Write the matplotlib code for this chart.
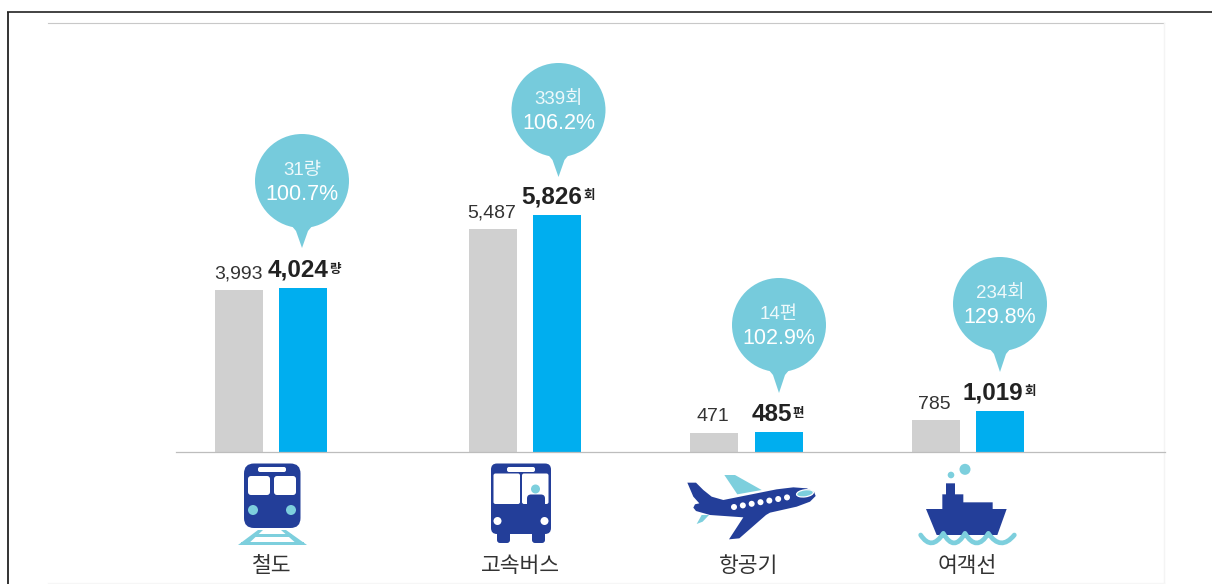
import matplotlib
matplotlib.use("Agg")
import matplotlib.pyplot as plt
from matplotlib.patches import Circle, Polygon, FancyBboxPatch, Rectangle, Ellipse, PathPatch
from matplotlib.path import Path

plt.rcParams['font.family'] = ['Noto Sans CJK KR', 'DejaVu Sans']
LATIN = ['Liberation Sans', 'Noto Sans CJK KR']

modes = ['철도', '고속버스', '항공기', '여객선']
prev_values = [3993, 5487, 471, 785]
curr_values = [4024, 5826, 485, 1019]
units = ['량', '회', '편', '회']
diff_labels = ['31량', '339회', '14편', '234회']
pct_labels = ['100.7%', '106.2%', '102.9%', '129.8%']

W, H = 1212, 584
GRAY = '#d0d0d0'
BLUE = '#00aeef'
TEAL = '#76cbdc'
PALE = '#7dcfdd'
NAVY = '#233e99'
INK = '#222222'

# pixel layout
gray_x = [239, 492.5, 714, 935.5]
blue_x = [303, 557, 779, 1000]
curr_label_x = [298, 551.5, 771.5, 993]
bar_w = 48
base_y = 452
px_per_unit = 237 / 5826
bubble_xy = [(302, 181, 248), (558.5, 110, 177), (779, 325, 393), (1000, 304, 372)]
label_x = [272, 520, 749, 967]

fig = plt.figure(figsize=(W / 100, H / 100), dpi=100, facecolor='white')

# bars, x in pixels, y in data units
ax = fig.add_axes([0, 1 - base_y / H, 1, base_y / H])
ax.set_xlim(0, W)
ax.set_ylim(0, base_y / px_per_unit)
ax.axis('off')
ax.bar(gray_x, prev_values, width=bar_w, color=GRAY, linewidth=0)
ax.bar(blue_x, curr_values, width=bar_w, color=BLUE, linewidth=0)

# everything else in image pixels
ov = fig.add_axes([0, 0, 1, 1])
ov.set_xlim(0, W)
ov.set_ylim(H, 0)
ov.axis('off')
ov.patch.set_alpha(0)

ov.plot([7.5, 7.5], [H, 12], color='#111111', lw=1.2, solid_capstyle='butt')
ov.plot([7, W], [12, 12], color='#222222', lw=1.2, solid_capstyle='butt')
ov.plot([48, 1164], [22.5, 22.5], color='#c8c8c8', lw=0.8)
ov.plot([1163.5, 1163.5], [23, H], color='#f4f4f4', lw=1)
ov.plot([48, 1164], [582.5, 582.5], color='#f6f6f6', lw=1)
ov.plot([176, 1165], [452, 452], color='#bdbdbd', lw=0.9)

rend = fig.canvas.get_renderer()
for i in range(4):
    cx, cy, tip = bubble_xy[i]
    ov.add_patch(Circle((cx, cy), 47, fc=TEAL, ec='none'))
    ov.add_patch(Polygon([(cx - 11, cy + 44), (cx - 6, cy + 50), (cx, tip), (cx + 6, cy + 50), (cx + 11, cy + 44)],
                         fc=TEAL, ec='none'))
    ov.text(cx, cy - 10.5, diff_labels[i], color='#eef9fb', fontsize=13.5, ha='center', va='center', family=LATIN)
    ov.text(cx, cy + 13.5, pct_labels[i], color='white', fontsize=15.5, ha='center', va='center', family=LATIN)

    y_prev = base_y - prev_values[i] * px_per_unit
    y_curr = base_y - curr_values[i] * px_per_unit
    ov.text(gray_x[i] - 1, y_prev - 16, f'{prev_values[i]:,}', color='#333333', fontsize=14,
            ha='center', va='center', family=LATIN)
    t = ov.text(curr_label_x[i], y_curr - 18, f'{curr_values[i]:,}', color=INK, fontsize=17.5,
                fontweight='bold', ha='center', va='center', family=LATIN)
    bb = t.get_window_extent(rend)
    ov.text(bb.x1 + 1, y_curr - 19, units[i], color=INK, fontsize=9, fontweight='bold',
            ha='left', va='center')

    ov.text(label_x[i], 565.5, modes[i], color='#333333', fontsize=15.5, fontweight='medium',
            ha='center', va='center')


def rbox(x0, y0, x1, y1, r, color):
    ov.add_patch(FancyBboxPatch((x0 + r, y0 + r), x1 - x0 - 2 * r, y1 - y0 - 2 * r,
                                boxstyle=f'round,pad={r},rounding_size={r}', fc=color, ec='none'))


# train icon
rbox(244, 463.5, 300.5, 528, 10, NAVY)
rbox(258, 467, 286, 472, 2, 'white')
rbox(248, 476, 270, 495, 3, 'white')
rbox(274, 476, 296, 495, 3, 'white')
ov.add_patch(Circle((253, 510), 5, fc=PALE, ec='none'))
ov.add_patch(Circle((291, 510), 5, fc=PALE, ec='none'))
ov.add_patch(Polygon([(258, 530), (263, 530), (247, 545), (238, 545)], fc=PALE, ec='none'))
ov.add_patch(Polygon([(281, 530), (286, 530), (307, 545), (298, 545)], fc=PALE, ec='none'))
ov.add_patch(Rectangle((253, 533.5), 39, 3.5, fc=PALE, ec='none'))
ov.add_patch(Rectangle((241, 541.5), 63, 3.5, fc=PALE, ec='none'))

# bus icon
rbox(491, 463.5, 551, 534, 6, NAVY)
rbox(497, 530, 510, 543, 3, NAVY)
rbox(532, 530, 545, 543, 3, NAVY)
rbox(507, 467, 535, 472, 2, 'white')
rbox(493.5, 473.5, 520, 504, 2, 'white')
rbox(522, 473.5, 548.5, 504, 2, 'white')
ov.add_patch(Circle((535.5, 489), 4.5, fc=PALE, ec='none'))
rbox(527, 494.5, 545, 510, 4, NAVY)
ov.add_patch(Circle((497.5, 521), 4, fc='white', ec='none'))
ov.add_patch(Circle((544.5, 521), 4, fc='white', ec='none'))


def zp(pts):
    return [(660 + x / 3, 440 + y / 3) for x, y in pts]


# plane icon
ov.add_patch(Polygon(zp([(193, 105), (225, 105), (305, 150), (232, 163)]), fc=PALE, ec='none'))
ov.add_patch(Polygon(zp([(125, 225), (147, 225), (128, 245), (110, 252)]), fc=PALE, ec='none'))
ov.add_patch(Polygon(zp([(82, 128), (108, 128), (130, 150), (155, 170), (190, 180), (290, 160), (350, 148),
                         (400, 142), (440, 145), (462, 155), (467, 168), (450, 185), (410, 200), (330, 218),
                         (318, 225), (238, 295), (207, 298), (250, 232), (150, 225), (108, 213), (100, 203),
                         (105, 193), (118, 190), (100, 170)]), fc=NAVY, ec='none'))
ov.add_patch(Ellipse(zp([(435, 160)])[0], 17, 7, angle=-8, fc=PALE, ec='white', lw=0.9))
for k in range(7):
    wx, wy = zp([(222 + k * 26.5, 201 - k * 4.8)])[0]
    ov.add_patch(Circle((wx, wy), 3, fc='white', ec='none'))

# ship icon
ov.add_patch(Circle(zp([(915, 88)])[0], 5.5, fc=PALE, ec='none'))
ov.add_patch(Circle(zp([(873, 105)])[0], 3.3, fc=PALE, ec='none'))
ov.add_patch(Polygon(zp([(858, 130), (885, 130), (885, 163), (910, 163), (910, 187), (998, 187), (998, 207),
                         (1040, 207), (1012, 285), (830, 285), (798, 207), (847, 207), (847, 163), (858, 163)]),
                     fc=NAVY, ec='none'))
wave_pts = zp([(782, 285), (815, 335), (850, 280), (882, 338), (915, 280), (950, 338), (985, 280), (1022, 335),
               (1063, 285)])
wave_codes = [Path.MOVETO] + [Path.CURVE3] * 8
ov.add_patch(PathPatch(Path(wave_pts, wave_codes), fc='none', ec=PALE, lw=3.4, capstyle='round', joinstyle='round'))

fig.savefig('out.png', dpi=100)
